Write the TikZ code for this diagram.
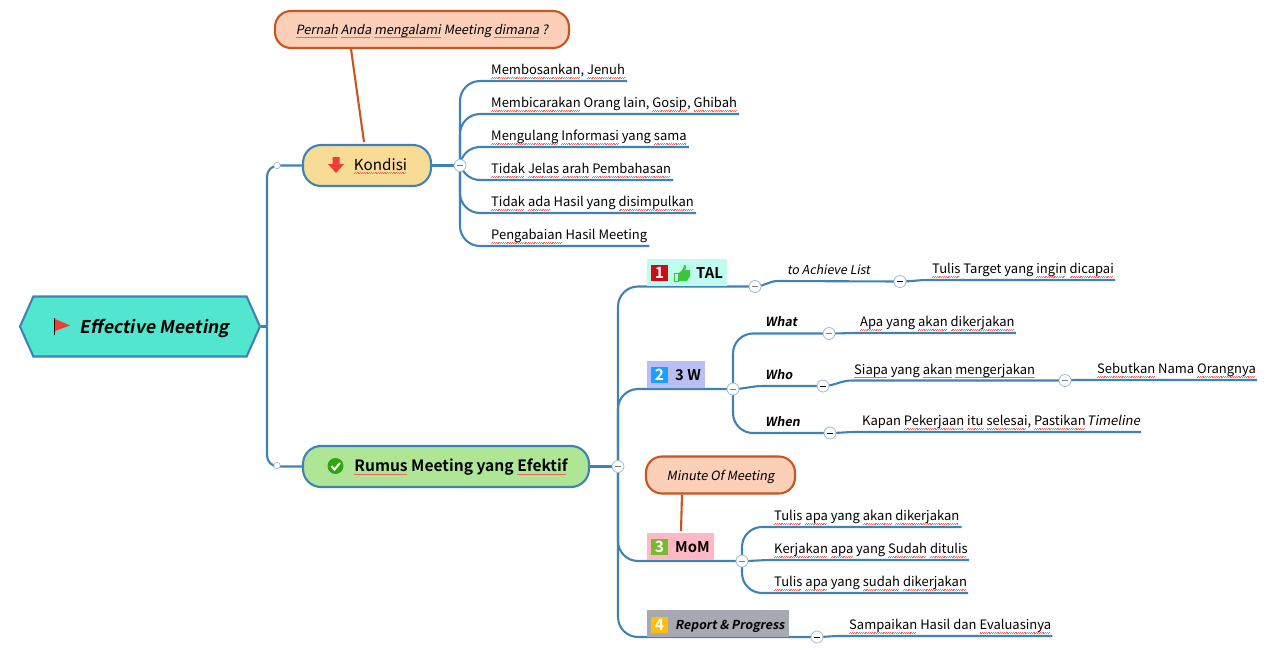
\documentclass[tikz,border=0pt]{standalone}
\usepackage{fontspec}
\setmainfont{Noto Sans CJK SC}[ItalicFont=Noto Sans CJK SC,ItalicFeatures={FakeSlant=0.18},BoldFont=Noto Sans CJK SC Bold,BoldItalicFont=Noto Sans CJK SC Bold,BoldItalicFeatures={FakeSlant=0.18}]
\usetikzlibrary{positioning,shapes.symbols,backgrounds}
\definecolor{linkblue}{HTML}{3F82B5}
\definecolor{rootfill}{HTML}{52E6CE}
\definecolor{kondisifill}{HTML}{F8DC96}
\definecolor{rumusfill}{HTML}{AEE696}
\definecolor{notefill}{HTML}{FBCFB8}
\definecolor{noteline}{HTML}{C8561E}
\definecolor{foldgray}{HTML}{9DBBD3}
\definecolor{squig}{HTML}{EC6A64}
\definecolor{iconred}{HTML}{F03C36}
\definecolor{checkgreen}{HTML}{2FA60F}
\definecolor{thumbgreen}{HTML}{3CC63C}
\definecolor{talfill}{HTML}{BFFBEF}
\definecolor{threefill}{HTML}{BBBEF5}
\definecolor{momfill}{HTML}{FEB8C6}
\definecolor{reportfill}{HTML}{A6A8B2}
\definecolor{badgeone}{HTML}{CE0A14}
\definecolor{badgetwo}{HTML}{1E9EFF}
\definecolor{badgethree}{HTML}{7AB82E}
\definecolor{badgefour}{HTML}{FFBE0B}
\newsavebox{\sqbox}
\newcommand{\sq}[1]{\sbox{\sqbox}{#1}\rlap{\textcolor{squig}{\leaders\hbox{\rule[-3.2pt]{.9pt}{.4pt}\rule[-2.7pt]{.9pt}{.4pt}}\hskip\wd\sqbox}}\usebox{\sqbox}}
\begin{document}
\begin{tikzpicture}[x=1pt,y=-1pt,
    line/.style={draw=linkblue,line width=2.1pt},
    link/.style={line,rounded corners=20pt},
    main/.style={draw=linkblue,line width=2.1pt,rounded corners=18pt,font=\fontsize{15.2}{18}\selectfont,inner sep=0pt,minimum height=41pt,text height=11pt,text depth=2pt},
    note/.style={draw=noteline,line width=2.1pt,fill=notefill,rounded corners=16pt,inner sep=0pt,minimum height=37pt,text height=11pt,text depth=1pt,font=\fontsize{12.7}{16}\selectfont\itshape},
    notelink/.style={draw=noteline,line width=2.1pt},
    leaf/.style={anchor=south west,inner xsep=1pt,inner ysep=2.5pt,text height=11pt,text depth=3.5pt,font=\fontsize{13}{16}\selectfont},
    tag/.style={anchor=south west,inner xsep=0pt,inner ysep=2.5pt,text height=10pt,text depth=3.5pt,font=\fontsize{12.5}{16}\selectfont\bfseries\itshape},
    topic/.style={inner sep=0pt,minimum height=27pt},
    toplabel/.style={anchor=base west,inner sep=0pt,font=\fontsize{14.8}{16}\selectfont\bfseries},
    badge/.style={minimum size=16.5pt,inner sep=0pt,text=white,font=\fontsize{15.5}{16}\selectfont\bfseries},
    fold/.style={circle,draw=foldgray,line width=.8pt,fill=white,minimum size=12pt,inner sep=0pt,
      path picture={\draw[line width=.9pt,#1] ([xshift=-3pt]path picture bounding box.center) -- ([xshift=3pt]path picture bounding box.center);}},
    fold/.default=gray,
    knob/.style={circle,draw=foldgray,line width=.6pt,fill=white,minimum size=6.5pt,inner sep=0pt}
  ]
    \useasboundingbox (0,0) rectangle (1280,649);

    % Root
    \node[shape=signal,signal to=west and east,signal pointer angle=132,draw=linkblue,line width=2.1pt,fill=rootfill,
      minimum width=240pt,minimum height=60pt,inner sep=0pt,text height=15pt,text depth=2pt,font=\fontsize{17.6}{20}\selectfont\bfseries\itshape] (root) at (140,326.5) {\hspace*{29pt}Effective Meeting};
    \fill[iconred] (55,319) -- (70,325.5) -- (55,331) -- cycle;
    \draw[line width=.9pt,black] (54,318) -- (54,334.5);
    \coordinate (hub) at (267,326.5);

    % Main topics
    \node[main,fill=kondisifill,minimum width=128pt] (kondisi) at (367,165.5) {\hspace*{27pt}\sq{Kondisi}};
    \fill[iconred] (332.5,157) -- (339.5,157) -- (339.5,164) -- (344,164) -- (336,173) -- (328,164) -- (332.5,164) -- cycle;
    \node[main,fill=rumusfill,minimum width=286pt,text height=12pt,font=\fontsize{15.6}{18}\selectfont\bfseries] (rumus) at (446,466.5) {\hspace*{30pt}\sq{Rumus} Meeting yang \sq{Efektif}};
    \fill[checkgreen] (335.5,466) circle (8pt);
    \draw[white,line width=2pt] (331.5,466) -- (334.5,469.5) -- (340,463);

    % Notes
    \node[note,minimum width=294pt] (pernah) at (422,29.5) {\sq{Pernah} \sq{Anda} \sq{mengalami} Meeting \sq{dimana} ?};
    \node[note,minimum width=149pt] (minute) at (720.5,475) {Minute Of Meeting};
    \coordinate (pernahfoot) at (364,142);
    \coordinate (minutefoot) at (681,531);

    % Kondisi leaves
    \node[fold] (kondisifold) at (460,165.5) {};
    \node[leaf] (bosan) at (490,81) {\sq{Membosankan}, \sq{Jenuh}};
    \node[leaf] (bicara) at (490,114) {\sq{Membicarakan} Orang lain, \sq{Gosip}, \sq{Ghibah}};
    \node[leaf] (ulang) at (490,147) {\sq{Mengulang} \sq{Informasi} yang \sq{sama}};
    \node[leaf] (jelas) at (490,180) {\sq{Tidak} \sq{Jelas} \sq{arah} \sq{Pembahasan}};
    \node[leaf] (hasil) at (490,213) {\sq{Tidak} \sq{ada} Hasil yang \sq{disimpulkan}};
    \node[leaf] (abai) at (490,246) {\sq{Pengabaian} Hasil Meeting};

    % Rumus topics
    \node[fold] (rumusfold) at (618,466.5) {};
    \node[topic,fill=talfill,minimum width=80pt] (tal) at (687,272.5) {};
    \node[badge,fill=badgeone] (one) at (659.5,273) {1};
    \fill[thumbgreen] (679,273) -- (683,269) -- (684,265) -- (686,265.5) -- (685.5,270) -- (690,270) -- (690,276) -- (687,281) -- (679,281) -- cycle;
    \draw[thumbgreen,line width=.8pt] (674.5,273.5) rectangle (678,281);
    \node[toplabel] (tallabel) at (696,278.5) {TAL};
    \node[fold] (talfold) at (755,286.5) {};
    \node[leaf,font=\fontsize{12.4}{16}\selectfont\itshape] (achieve) at (786,281) {to Achieve List};
    \node[fold=black] (achievefold) at (900,281.5) {};
    \node[leaf] (target) at (931,280) {\sq{Tulis} Target yang \sq{ingin} \sq{dicapai}};

    \node[topic,fill=threefill,minimum width=58pt] (threew) at (676,374) {};
    \node[badge,fill=badgetwo] (two) at (659.5,375) {2};
    \node[toplabel] (threelabel) at (675,380) {3 W};
    \node[fold] (threefold) at (733,389) {};
    \node[tag] (what) at (765,333) {What};
    \node[tag] (who) at (765,386) {Who};
    \node[tag] (when) at (765,433) {When};
    \node[fold] (whatfold) at (829,333.5) {};
    \node[fold=black] (whofold) at (823,386) {};
    \node[fold=black] (whenfold) at (830,433) {};
    \node[leaf] (apa) at (859,333) {\sq{Apa} yang \sq{akan} \sq{dikerjakan}};
    \node[leaf] (siapa) at (853,380.5) {\sq{Siapa} yang \sq{akan} \sq{mengerjakan}};
    \node[fold] (siapafold) at (1065,380.5) {};
    \node[leaf] (nama) at (1096,380) {\sq{Sebutkan} Nama \sq{Orangnya}};
    \node[leaf] (kapan) at (861,432) {Kapan \sq{Pekerjaan} \sq{itu} \sq{selesai}, \sq{Pastikan}\hspace{.1em}\textit{Timeline}};

    \node[topic,fill=momfill,minimum width=67pt] (mom) at (680.5,546) {};
    \node[badge,fill=badgethree] (three) at (659.5,547) {3};
    \node[toplabel] (momlabel) at (675,552.3) {MoM};
    \node[fold] (momfold) at (742,561) {};
    \node[leaf] (tulis) at (773,527) {\sq{Tulis} \sq{apa} yang \sq{akan} \sq{dikerjakan}};
    \node[leaf] (kerjakan) at (773,560) {\sq{Kerjakan} \sq{apa} yang \sq{Sudah} \sq{ditulis}};
    \node[leaf] (sudah) at (773,593) {\sq{Tulis} \sq{apa} yang \sq{sudah} \sq{dikerjakan}};

    \node[topic,fill=reportfill,minimum width=142pt] (report) at (718,623) {};
    \node[badge,fill=badgefour] (four) at (659.5,625) {4};
    \node[toplabel,font=\fontsize{12.3}{16}\selectfont\bfseries\itshape] (reportlabel) at (675,629.3) {Report \& Progress};
    \node[fold=black] (reportfold) at (817,637) {};
    \node[leaf] (sampai) at (848,636) {\sq{Sampaikan} Hasil dan \sq{Evaluasinya}};

    % Knobs on the root branches
    \node[knob] (kondisiknob) at (277,165.5) {};
    \node[knob] (rumusknob) at (277,465.5) {};

    % Connectors
    \begin{scope}[on background layer]
      \draw[line] (root.east) -- (hub);
      \draw[link,rounded corners=11pt] (hub) |- (kondisi.west);
      \draw[link,rounded corners=11pt] (hub) |- (rumus.west);
      \draw[notelink] (pernah.south -| 351,48) -- (pernahfoot);
      \draw[notelink] (minute.south -| 682,494) -- (minutefoot);

      \draw[line] (kondisi.east) -- (kondisifold);
      \foreach \leafname in {bosan,bicara,ulang,jelas,hasil,abai}
        \draw[link] (kondisifold.center) |- ([xshift=1pt]\leafname.south east);

      \draw[line] (rumus.east) -- (rumusfold);
      \foreach \topicfold in {talfold,threefold,momfold,reportfold}
        \draw[link] (rumusfold.center) |- (\topicfold.center);

      \draw[line] (talfold.center) to[out=0,in=180] ([xshift=-8pt]achieve.south west) -- (achievefold.center);
      \draw[line] (achievefold.center) to[out=0,in=180] ([xshift=-2pt]target.south west) -- (target.south east);

      \draw[link] (threefold.center) |- (whatfold.center);
      \draw[line] (threefold.center) to[out=0,in=180] ([xshift=-2pt]who.south west) -- (whofold.center);
      \draw[link] (threefold.center) |- (whenfold.center);
      \draw[line] (whatfold.center) to[out=0,in=180] (apa.south west) -- (apa.south east);
      \draw[line] (whofold.center) to[out=0,in=180] ([xshift=-1pt]siapa.south west) -- (siapafold.center);
      \draw[line] (siapafold.center) to[out=0,in=180] ([xshift=-20pt]nama.south west) -- (nama.south east);
      \draw[line] (whenfold.center) to[out=0,in=180] ([xshift=-5pt]kapan.south west) -- (kapan.south east);

      \draw[link] (momfold.center) |- ([xshift=1pt]tulis.south east);
      \draw[line] (momfold.center) to[out=0,in=180] (kerjakan.south west) -- (kerjakan.south east);
      \draw[link] (momfold.center) |- (sudah.south east);

      \draw[line] (reportfold.center) to[out=0,in=180] ([xshift=-8pt]sampai.south west) -- (sampai.south east);
    \end{scope}
  \end{tikzpicture}
\end{document}
